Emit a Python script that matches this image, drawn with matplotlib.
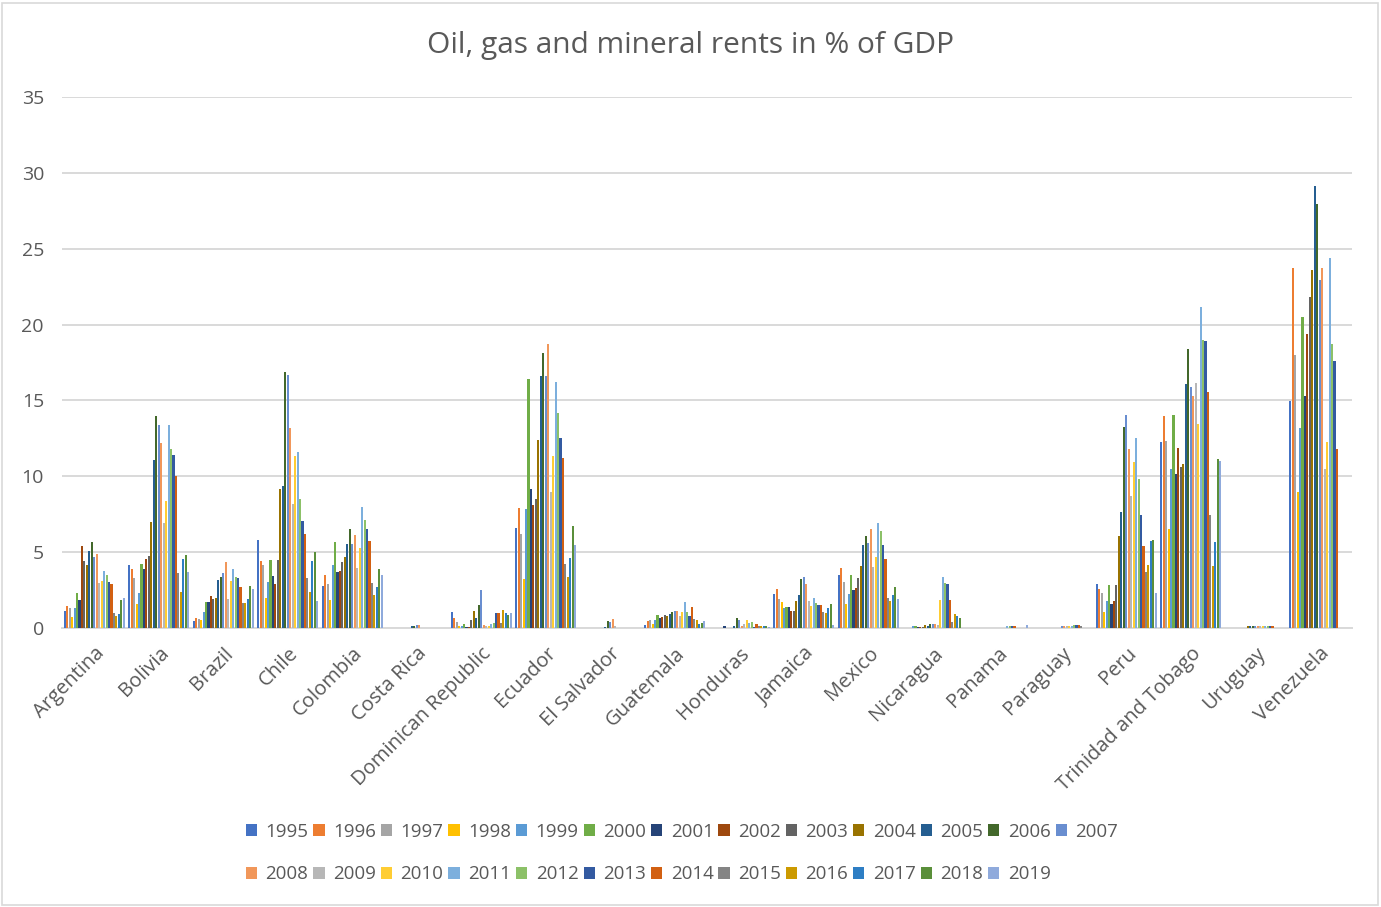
import matplotlib.pyplot as plt
from matplotlib.patches import Rectangle
import numpy as np

countries = ['Argentina', 'Bolivia', 'Brazil', 'Chile', 'Colombia', 'Costa Rica',
             'Dominican Republic', 'Ecuador', 'El Salvador', 'Guatemala', 'Honduras',
             'Jamaica', 'Mexico', 'Nicaragua', 'Panama', 'Paraguay', 'Peru',
             'Trinidad and Tobago', 'Uruguay', 'Venezuela']
years = list(range(1995, 2020))

# rents per country, 1995 .. 2019
argentina = [1.14, 1.45, 1.3, 0.73, 1.3, 2.33, 1.85, 5.4, 4.4, 4.15, 5.08, 5.65, 4.7,
             4.88, 2.97, 3.1, 3.74, 3.5, 3.03, 2.88, 1.0, 0.8, 0.9, 1.85, 2.0]
bolivia = [4.15, 3.9, 3.27, 1.6, 2.33, 4.22, 3.9, 4.55, 4.77, 6.97, 11.1, 14.0, 13.4,
           12.2, 6.9, 8.4, 13.4, 11.8, 11.4, 10.0, 3.63, 2.4, 4.52, 4.84, 3.7]
brazil = [0.48, 0.68, 0.6, 0.5, 1.03, 1.7, 1.7, 2.1, 1.93, 2.0, 3.16, 3.36, 3.6,
          4.33, 1.9, 3.12, 3.9, 3.36, 3.27, 2.72, 1.63, 1.63, 1.93, 2.8, 2.57]
chile = [5.8, 4.4, 4.13, 2.0, 3.0, 4.46, 3.43, 2.88, 4.46, 9.14, 9.36, 16.9, 16.66,
         13.16, 8.18, 11.34, 11.58, 8.5, 7.08, 6.2, 3.27, 2.4, 4.4, 5.0, 1.76]
colombia = [2.8, 3.5, 2.88, 1.85, 4.15, 5.65, 3.67, 3.74, 4.37, 4.7, 5.56, 6.5, 5.56,
            6.1, 3.98, 5.25, 7.96, 7.14, 6.5, 5.71, 2.97, 2.18, 2.73, 3.9, 3.5]
costa_rica = [0, 0, 0, 0, 0, 0, 0, 0, 0, 0, 0.1, 0.15, 0.22,
              0.18, 0.02, 0.02, 0.02, 0.02, 0.02, 0.02, 0, 0, 0, 0, 0]
dominican = [1.05, 0.66, 0.42, 0.1, 0.13, 0.29, 0.05, 0.05, 0.5, 1.12, 0.66, 1.52, 2.48,
             0.2, 0.1, 0.13, 0.26, 0.35, 1.0, 1.0, 0.3, 1.2, 0.97, 0.85, 0.97]
ecuador = [6.6, 7.93, 6.2, 3.2, 7.87, 16.4, 9.14, 8.1, 8.5, 12.37, 16.6, 18.15, 16.6,
           18.7, 8.95, 11.34, 16.24, 14.18, 12.53, 11.19, 4.22, 3.34, 4.6, 6.75, 5.47]
el_salvador = [0, 0, 0, 0, 0, 0, 0, 0, 0, 0, 0.05, 0.48, 0.42,
               0.57, 0.13, 0.02, 0.02, 0.02, 0.02, 0.02, 0.02, 0.02, 0.02, 0.02, 0.02]
guatemala = [0.18, 0.44, 0.53, 0.29, 0.53, 0.84, 0.68, 0.73, 0.84, 0.79, 0.92, 1.08, 1.14,
             1.14, 0.81, 1.08, 1.69, 1.08, 0.81, 1.38, 0.57, 0.5, 0.26, 0.35, 0.44]
honduras = [0, 0, 0, 0, 0, 0, 0.1, 0, 0, 0, 0.1, 0.68, 0.5,
            0.13, 0.24, 0.5, 0.33, 0.37, 0.05, 0.29, 0.15, 0.13, 0.13, 0.1, 0.05]
jamaica = [2.24, 2.57, 1.93, 1.69, 1.32, 1.36, 1.36, 1.14, 1.14, 1.78, 2.18, 3.2, 3.34,
           2.88, 1.78, 1.45, 2.0, 1.63, 1.54, 1.54, 1.05, 0.97, 1.3, 1.56, 0.2]
mexico = [3.52, 3.98, 3.03, 1.6, 2.24, 3.52, 2.5, 2.64, 3.27, 4.07, 5.47, 6.04, 5.63,
          6.5, 4.0, 4.66, 6.9, 6.42, 5.49, 4.53, 2.0, 1.76, 2.15, 2.73, 1.93]
nicaragua = [0, 0, 0, 0, 0.1, 0.13, 0.05, 0.05, 0.05, 0.2, 0.1, 0.26, 0.26,
             0.26, 0.18, 1.85, 3.36, 2.97, 2.88, 1.85, 0.37, 0.92, 0.81, 0.66, 0]
panama = [0, 0, 0, 0, 0, 0, 0, 0, 0, 0, 0, 0, 0,
          0, 0, 0, 0.1, 0.1, 0.12, 0.12, 0, 0, 0, 0, 0.18]
paraguay = [0, 0, 0, 0, 0, 0, 0, 0, 0, 0, 0, 0, 0.12,
            0.12, 0.12, 0.12, 0.15, 0.18, 0.2, 0.18, 0.12, 0, 0, 0, 0]
peru = [2.88, 2.55, 2.33, 1.05, 1.78, 2.81, 1.6, 1.76, 2.81, 6.04, 7.63, 13.23, 14.04,
        11.8, 8.73, 10.97, 12.5, 9.82, 7.45, 5.43, 3.67, 4.15, 5.71, 5.8, 2.33]
trinidad = [12.29, 13.96, 12.35, 6.5, 10.46, 14.02, 10.15, 11.89, 10.64, 10.79, 16.07, 18.37, 15.9,
            15.27, 16.15, 13.45, 21.14, 18.99, 18.9, 15.54, 7.47, 4.09, 5.65, 11.16, 11.03]
uruguay = [0, 0, 0, 0, 0, 0, 0, 0, 0, 0.12, 0.12, 0.13, 0.12,
           0.13, 0.12, 0.12, 0.13, 0.13, 0.12, 0.12, 0, 0, 0, 0, 0]
venezuela = [14.99, 23.76, 17.98, 8.99, 13.16, 20.5, 15.3, 19.4, 21.85, 23.6, 29.14, 27.96, 22.95,
             23.76, 10.48, 12.26, 24.37, 18.73, 17.58, 11.8, 0, 0, 0, 0, 0]

year_colors = ['#4472C4', '#ED7D31', '#A5A5A5', '#FFC000', '#5B9BD5', '#70AD47',
               '#264478', '#9E480E', '#636363', '#997300', '#255E91', '#43682B',
               '#698ED0', '#F1975A', '#B7B7B7', '#FFCD33', '#7CAFDD', '#8CC168',
               '#335AA1', '#D26012', '#848484', '#CC9A00', '#2E7EC4', '#5A8F3A',
               '#8FAADC']

table = np.array([argentina, bolivia, brazil, chile, colombia, costa_rica, dominican,
                  ecuador, el_salvador, guatemala, honduras, jamaica, mexico, nicaragua,
                  panama, paraguay, peru, trinidad, uruguay, venezuela])

plt.rcParams['font.family'] = ['Open Sans', 'DejaVu Sans']
text_color = '#595959'
grid_color = '#D9D9D9'

fig = plt.figure(figsize=(13.81, 9.07), dpi=100)
ax = fig.add_axes([62 / 1381, 1 - 628 / 907, (1352 - 62) / 1381, (628 - 97) / 907])

x = np.arange(len(countries))
pitch = 1 / 26.2
handles = []
for j, year in enumerate(years):
    h = ax.bar(x + (j - 12) * pitch, table[:, j], width=pitch * 0.85,
               color=year_colors[j], label=str(year), zorder=3)
    handles.append(h)

ax.set_xlim(-0.5, len(countries) - 0.5)
ax.set_ylim(0, 35)
ax.set_yticks(range(0, 36, 5))
ax.yaxis.grid(True, color=grid_color, linewidth=1.4, zorder=0)
ax.tick_params(axis='both', length=0, colors=text_color, labelsize=14)
ax.tick_params(axis='y', pad=13)
for s in ['top', 'right', 'left']:
    ax.spines[s].set_visible(False)
ax.spines['bottom'].set_color(grid_color)
ax.spines['bottom'].set_linewidth(1.4)

ax.set_xticks(x)
ax.set_xticklabels(countries, rotation=45, ha='right', va='top',
                   rotation_mode='anchor', fontsize=14.5, color=text_color)
ax.tick_params(axis='x', pad=11)

fig.text(0.5, 1 - 46 / 907, 'Oil, gas and mineral rents in % of GDP',
         ha='center', va='center', fontsize=21.5, color=text_color)

# legend: 13 entries in the first row, 12 in the second
order = []
for j in range(12):
    order += [j, j + 13]
order.append(12)
leg = fig.legend([handles[i] for i in order], [str(years[i]) for i in order],
                 ncol=13, loc='center', bbox_to_anchor=(682 / 1381, 1 - 853 / 907),
                 frameon=False, fontsize=13.5, handlelength=0.6, handleheight=0.6,
                 handletextpad=0.45, columnspacing=0.26, labelspacing=1.3)
for t in leg.get_texts():
    t.set_color(text_color)

fig.patches.append(Rectangle((2 / 1381, 2 / 907), 1376 / 1381, 902 / 907,
                             transform=fig.transFigure, fill=False,
                             edgecolor='#D9D9D9', linewidth=1.2))

fig.savefig('out.png', dpi=100)
